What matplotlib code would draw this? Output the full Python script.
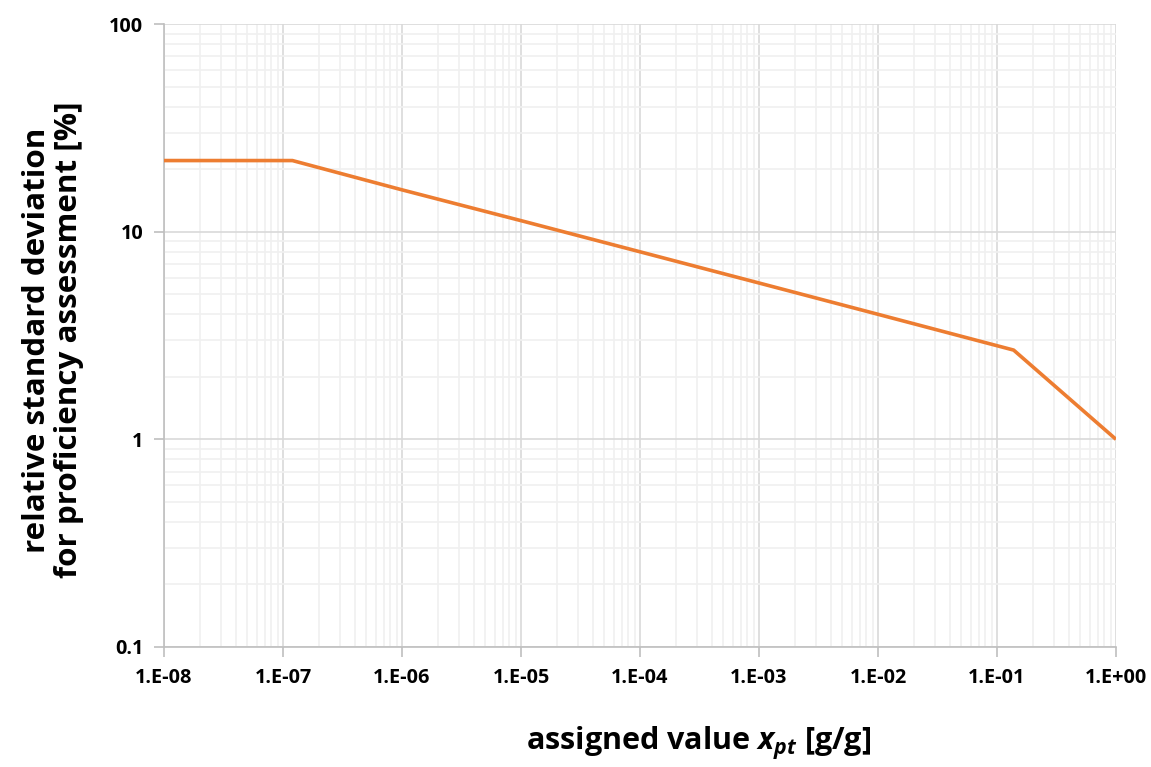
import math
import matplotlib.pyplot as plt
from matplotlib.ticker import FixedLocator, LogLocator, NullFormatter, FuncFormatter

plt.rcParams['font.family'] = ['Open Sans', 'DejaVu Sans']
plt.rcParams['font.weight'] = 'bold'
plt.rcParams['mathtext.fontset'] = 'custom'
plt.rcParams['mathtext.it'] = 'Open Sans:italic:bold'
plt.rcParams['mathtext.rm'] = 'Open Sans:bold'

# assigned value (g/g) and relative standard deviation (%) at the curve's corners
mass_fraction = [1e-8, 1.2e-7, 1e-6, 1e-5, 1e-4, 1e-3, 1e-2, 0.138, 1.0]
rsd_percent = [22.0, 22.0, 15.9, 11.3, 8.0, 5.66, 4.0, 2.69, 1.0]

x_ticks = [1e-8, 1e-7, 1e-6, 1e-5, 1e-4, 1e-3, 1e-2, 1e-1, 1e0]
y_ticks = [0.1, 1, 10, 100]
y_tick_labels = ['0.1', '1', '10', '100']

fig = plt.figure(figsize=(11.51, 7.67), dpi=100)
ax = fig.add_axes([164 / 1151, 120 / 767, 952 / 1151, 623 / 767])

ax.plot(mass_fraction, rsd_percent, color='#ED7D31', lw=2.6, solid_capstyle='butt', zorder=3)

ax.set_xscale('log')
ax.set_yscale('log')
ax.set_xlim(1e-8, 1)
ax.set_ylim(0.1, 100)

ax.xaxis.set_major_locator(FixedLocator(x_ticks))
ax.yaxis.set_major_locator(FixedLocator(y_ticks))
ax.xaxis.set_minor_locator(LogLocator(base=10, subs=range(2, 10), numticks=20))
ax.yaxis.set_minor_locator(LogLocator(base=10, subs=range(2, 10), numticks=20))
ax.xaxis.set_minor_formatter(NullFormatter())
ax.yaxis.set_minor_formatter(NullFormatter())
ax.xaxis.set_major_formatter(FuncFormatter(lambda v, p: '1.E%+03d' % round(math.log10(v))))
ax.yaxis.set_major_formatter(FuncFormatter(lambda v, p: y_tick_labels[y_ticks.index(v)] if v in y_ticks else ''))

ax.grid(which='major', color='#d9d9d9', lw=1.2)
ax.grid(which='minor', color='#f0f0f0', lw=1.2)
ax.set_axisbelow(True)

for side in ['top', 'right']:
    ax.spines[side].set_visible(False)
for side in ['left', 'bottom']:
    ax.spines[side].set_color('#bfbfbf')
    ax.spines[side].set_linewidth(1.2)

ax.tick_params(which='major', length=7, width=1.2, color='#bfbfbf', labelsize=14.3, pad=8)
ax.tick_params(which='minor', length=0)
for lab in ax.get_xticklabels() + ax.get_yticklabels():
    lab.set_fontweight('bold')

fig.text(699 / 1151, 24 / 767, r'assigned value $x_{pt}$ [g/g]', ha='center', va='center',
         fontsize=22, fontweight='bold')
fig.text(53 / 1151, (767 - 340) / 767, 'relative standard deviation\nfor proficiency assessment [%]',
         ha='center', va='center', rotation=90, fontsize=22.6, fontweight='bold', linespacing=1.1)

fig.savefig('out.png', dpi=100)
